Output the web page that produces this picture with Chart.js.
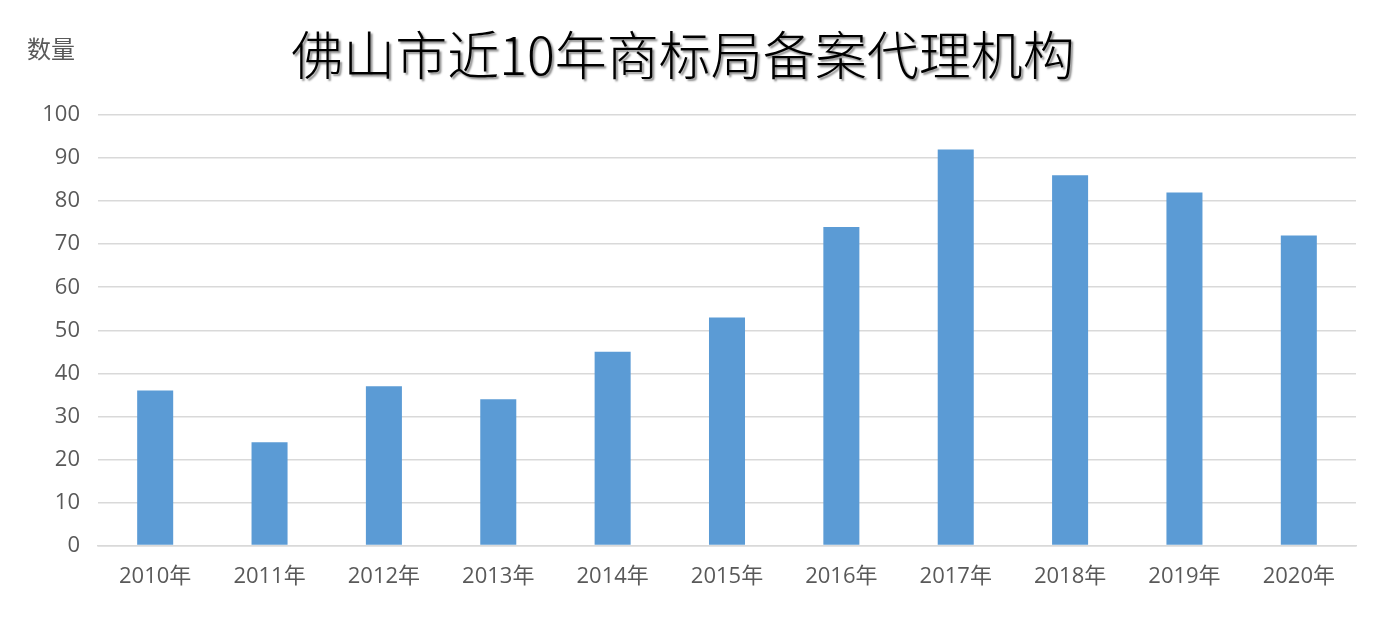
<!DOCTYPE html>
<html>
<head>
<meta charset="utf-8">
<script src="https://cdn.jsdelivr.net/npm/chart.js@4"></script>
<style>
  html, body { margin: 0; padding: 0; background: #fff; }
  #wrap { width: 1399px; height: 633px; }
</style>
</head>
<body>
<div id="wrap"><canvas id="chart" width="1399" height="633"></canvas></div>
<script>
const years = ["2010年", "2011年", "2012年", "2013年", "2014年", "2015年", "2016年", "2017年", "2018年", "2019年", "2020年"];
const counts = [36, 24, 37, 34, 45, 53, 74, 92, 86, 82, 72];
const titleText = "佛山市近10年商标局备案代理机构";
const yLabel = "数量";

const cjk = "'Noto Sans CJK SC', 'Noto Sans', sans-serif";
const tickFont = "'Open Sans', 'Noto Sans CJK SC', sans-serif";

// title and axis caption, drawn on the canvas (title has a soft shadow)
const headerPlugin = {
  id: "header",
  afterDraw(chart) {
    const ctx = chart.ctx;
    ctx.save();
    ctx.font = "300 52px " + cjk;
    ctx.textAlign = "center";
    ctx.textBaseline = "middle";
    ctx.shadowColor = "rgba(0,0,0,0.45)";
    ctx.shadowOffsetX = 2;
    ctx.shadowOffsetY = 2;
    ctx.shadowBlur = 2;
    ctx.fillStyle = "#000";
    ctx.fillText(titleText, 683, 55);
    ctx.restore();

    ctx.save();
    ctx.font = "24px " + cjk;
    ctx.fillStyle = "#595959";
    ctx.textAlign = "left";
    ctx.textBaseline = "middle";
    ctx.fillText(yLabel, 27, 49);
    ctx.restore();
  }
};

new Chart(document.getElementById("chart"), {
  type: "bar",
  data: {
    labels: years,
    datasets: [{
      data: counts,
      backgroundColor: "#5b9bd5",
      categoryPercentage: 1,
      barPercentage: 0.315
    }]
  },
  options: {
    responsive: false,
    animation: false,
    layout: { padding: { top: 115, right: 43, bottom: 33, left: 0 } },
    plugins: {
      legend: { display: false },
      tooltip: { enabled: false }
    },
    scales: {
      x: {
        grid: { display: false },
        border: { display: true, color: "#d9d9d9", width: 1.5 },
        ticks: { color: "#595959", font: { size: 22, family: tickFont }, padding: 10, maxRotation: 0 }
      },
      y: {
        min: 0,
        max: 100,
        afterFit(scale) { scale.width = 98; },
        grid: { color: "#d9d9d9", lineWidth: 1.5, drawTicks: false },
        border: { display: false },
        ticks: { stepSize: 10, color: "#595959", font: { size: 22, family: tickFont }, padding: 18 }
      }
    }
  },
  plugins: [headerPlugin]
});
</script>
</body>
</html>
